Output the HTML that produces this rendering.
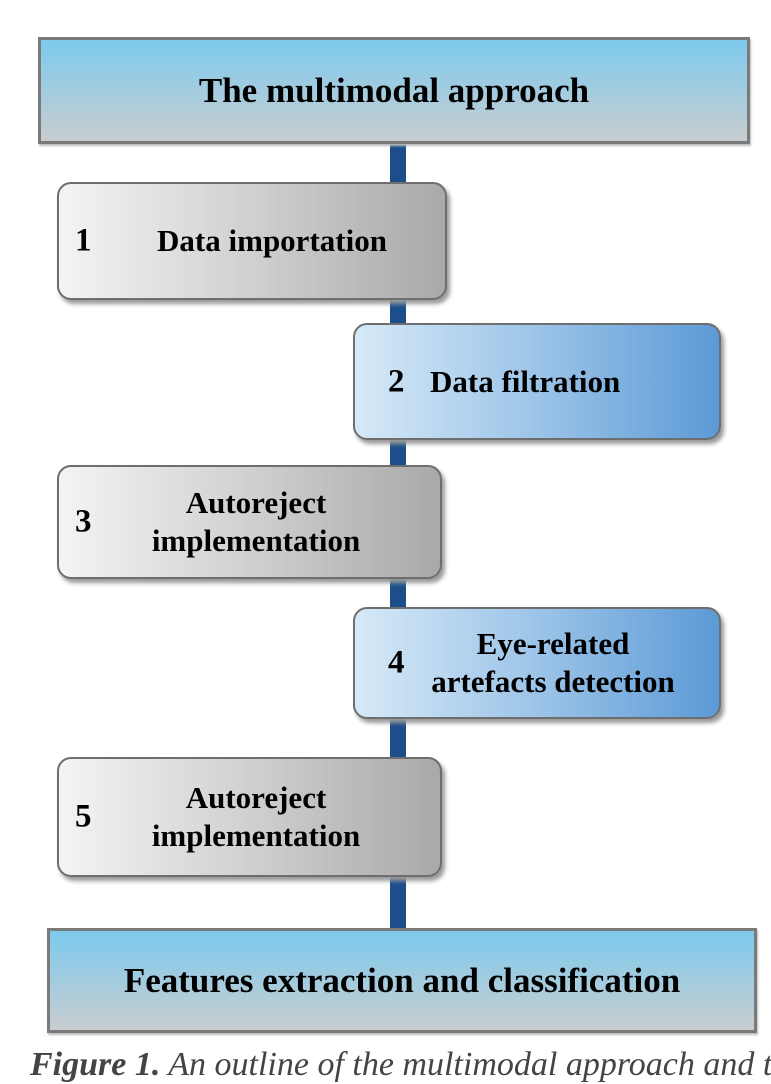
<!DOCTYPE html>
<html><head><meta charset="utf-8"><style>
body{margin:0;width:771px;height:1073px;background:#fff;position:relative;overflow:hidden;font-family:"Liberation Serif",serif;font-weight:bold;color:#000}
.line{position:absolute;left:390px;width:16px;top:143px;height:785px;background:#1c4f8a}
.hdr{position:absolute;border:3px solid #7a7a7a;background:linear-gradient(#7ccaee,#c9cdd0);box-sizing:border-box;display:flex;align-items:center;justify-content:center;font-size:35px;box-shadow:1px 2px 2px #bbb}
.b{position:absolute;box-sizing:border-box;border:2px solid #6e6e6e;border-radius:14px;box-shadow:3px 4px 4px #999;font-size:31px}
.g{background:linear-gradient(90deg,#f3f4f5,#d0d0d0 50%,#a9a9a9)}
.bl{background:linear-gradient(90deg,#d6e9f7,#9cc4e8 50%,#5c9ad6)}
.n{position:absolute;font-size:33px;top:50%;transform:translateY(-50%);line-height:1}
.t{position:absolute;text-align:center;line-height:38px;width:400px;top:50%;transform:translateY(-50%);white-space:nowrap}
.cap{position:absolute;left:30px;top:1046px;font-size:34px;font-weight:normal;color:#444;font-style:italic;white-space:nowrap}
</style></head><body>
<div class="line"></div>
<div class="hdr" style="left:38px;top:37px;width:712px;height:107px">The multimodal approach</div>
<div class="b g" style="left:57px;top:182px;width:390px;height:118px"><span class="n" style="left:16px">1</span><span class="t" style="left:13px">Data importation</span></div>
<div class="b bl" style="left:353px;top:323px;width:368px;height:117px"><span class="n" style="left:33px">2</span><span class="t" style="left:75px;width:auto;text-align:left">Data filtration</span></div>
<div class="b g" style="left:57px;top:465px;width:385px;height:114px"><span class="n" style="left:16px">3</span><span class="t" style="left:-3px">Autoreject<br>implementation</span></div>
<div class="b bl" style="left:353px;top:607px;width:368px;height:112px"><span class="n" style="left:33px">4</span><span class="t" style="left:-2px">Eye-related<br>artefacts detection</span></div>
<div class="b g" style="left:57px;top:757px;width:385px;height:120px"><span class="n" style="left:16px">5</span><span class="t" style="left:-3px">Autoreject<br>implementation</span></div>
<div class="hdr" style="left:47px;top:928px;width:710px;height:105px">Features extraction and classification</div>
<div class="cap"><b>Figure 1.</b> An outline of the multimodal approach and the</div>
</body></html>
